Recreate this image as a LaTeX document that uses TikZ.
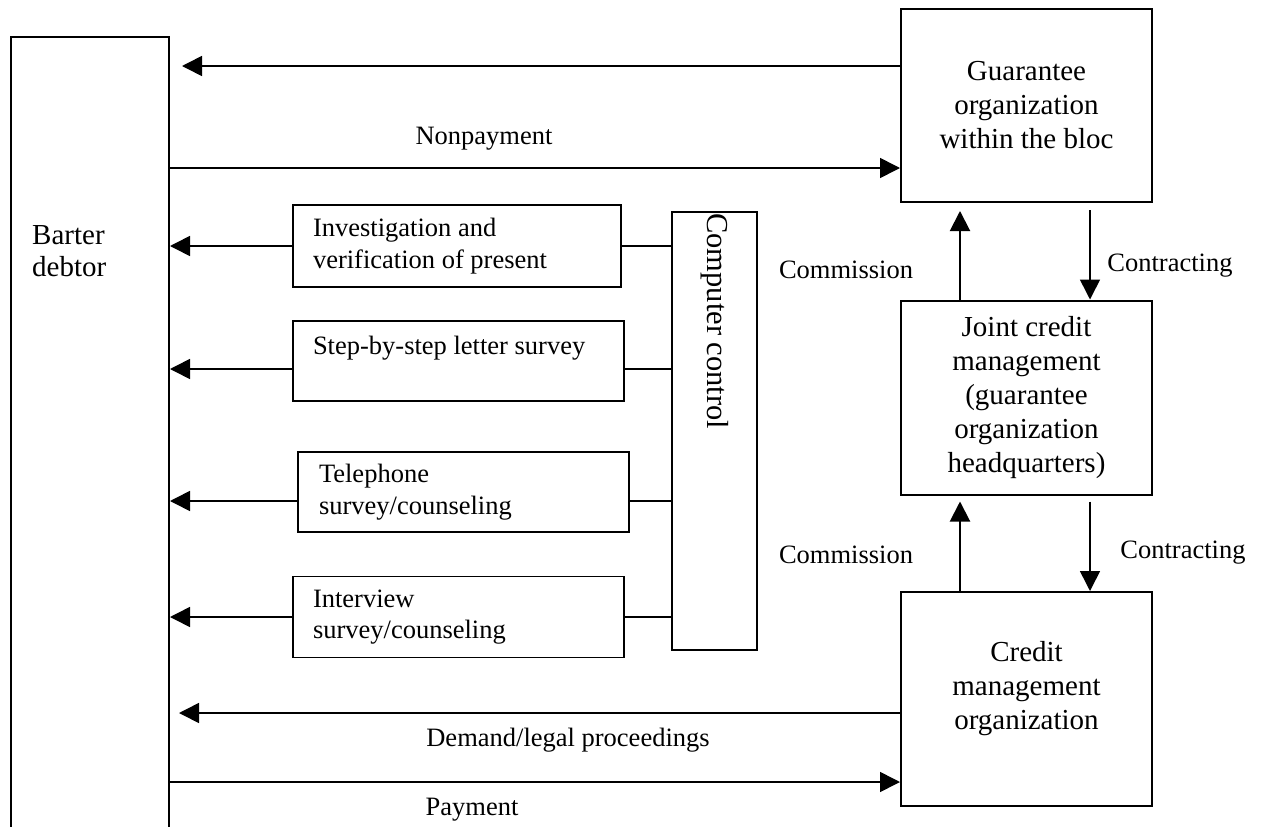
\documentclass[tikz,border=0pt]{standalone}
\usepackage{fontspec}
\setmainfont{Liberation Serif}
\usetikzlibrary{arrows.meta}

% font sizes used in the chart
\newcommand{\fBig}{\fontsize{29pt}{34pt}\selectfont}
\newcommand{\fMid}{\fontsize{26.5pt}{31.5pt}\selectfont}
\newcommand{\fCC}{\fontsize{30.5pt}{34pt}\selectfont}

\begin{document}
\begin{tikzpicture}[x=1pt,y=-1pt,
  orgbox/.style={draw, line width=2pt, inner sep=0pt, minimum width=251pt,
                 align=center, font=\fBig},
  stepbox/.style={draw, line width=1.8pt, inner ysep=0pt, inner xsep=20pt,
                  align=flush left, font=\fMid},
  lbl/.style={inner sep=0pt, font=\fMid},
  conn/.style={line width=1.6pt},
  arr/.style={conn, -{Triangle[length=20pt,width=20pt]}}]

\useasboundingbox (0,0) rectangle (1262,827);
\fill[white] (0,0) rectangle (1262,827);

% debtor column (runs past the lower edge)
\node[draw, line width=2pt, inner sep=0pt, minimum width=158pt,
      minimum height=820pt, anchor=north west] (debtor) at (10,36) {};
\node[inner sep=0pt, anchor=west, align=flush left,
      font=\fontsize{29pt}{32pt}\selectfont] (debtortxt) at (32,251) {Barter\\debtor};

% organizations on the right
\node[orgbox, minimum height=193pt] (guar) at (1026.5,105.5)
  {Guarantee\\organization\\within the bloc};
\node[orgbox, minimum height=194pt] (joint) at (1026.5,397.5)
  {Joint credit\\management\\(guarantee\\organization\\headquarters)};
\node[orgbox, minimum height=214pt] (credit) at (1026.5,699) {};
\node[inner sep=0pt, align=center, font=\fBig] (credittxt) at (1026.5,689)
  {Credit\\management\\organization};

% computer control column
\node[draw, line width=2pt, inner sep=0pt, minimum width=85pt,
      minimum height=438pt] (cc) at (714.5,431) {};
\node[rotate=-90, anchor=west, inner sep=0pt, font=\fCC] (cctxt)
  at ([yshift=-2pt]cc.north) {Computer control};

% survey methods
\node[stepbox, text width=288pt, minimum height=82pt] (inv) at (457,246)
  {Investigation and\\verification of present};
\node[stepbox, text width=291pt, minimum height=80pt] (step) at (458.5,361)
  {Step-by-step letter survey\\\mbox{}};
\node[stepbox, inner xsep=21pt, text width=289pt, minimum height=80pt] (tel) at (463.5,492)
  {Telephone\\survey/counseling};
\node[stepbox, text width=291pt, minimum height=81pt] (int) at (458.5,617)
  {Interview\\survey/counseling};

% attachment points on box sides
\coordinate (invP) at (inv.west);
\coordinate (invQ) at (inv.east);
\coordinate (stepP) at ([yshift=-8pt]step.west);
\coordinate (stepQ) at ([yshift=-8pt]step.east);
\coordinate (telP) at ([yshift=-9pt]tel.west);
\coordinate (telQ) at ([yshift=-9pt]tel.east);
\coordinate (intP) at (int.west);
\coordinate (intQ) at (int.east);

\foreach \m in {inv,step,tel,int}{
  \draw[arr] (\m P) -- (\m P -| debtor.east);
  \draw[conn] (\m Q) -- (\m Q -| cc.west);
}

% guarantee organization <-> debtor
\coordinate (gOut) at ([yshift=39.5pt]guar.west);
\coordinate (gIn) at ([yshift=-62.5pt]guar.west);
\draw[arr, shorten >=12pt] (gOut) -- (gOut -| debtor.east);
\draw[arr] (gIn -| debtor.east) -- (gIn);
\node[lbl] (nonpay) at (484,139) {Nonpayment};

% credit management organization <-> debtor
\coordinate (cOut) at ([yshift=-14pt]credit.west);
\coordinate (cIn) at ([yshift=-83pt]credit.west);
\draw[arr, shorten >=9pt] (cOut) -- (cOut -| debtor.east);
\draw[arr] (cIn -| debtor.east) -- (cIn);
\node[lbl] (demand) at (568,740) {Demand/legal proceedings};
\node[lbl] (pay) at (472,810) {Payment};

% commission / contracting between the organizations
\coordinate (jUp) at ([xshift=-66.5pt]joint.north);
\coordinate (jDn) at ([xshift=63.5pt]joint.north);
\draw[arr, line width=2pt, shorten >=8pt] (jUp) -- (jUp |- guar.south);
\draw[arr, shorten <=7pt] (jDn |- guar.south) -- (jDn);
\coordinate (cUp) at ([xshift=-66.5pt]credit.north);
\coordinate (cDn) at ([xshift=63.5pt]credit.north);
\draw[arr, line width=2pt, shorten >=6pt] (cUp) -- (cUp |- joint.south);
\draw[arr, shorten <=6pt] (cDn |- joint.south) -- (cDn);

\node[lbl] (comm1) at (846,270) {Commission};
\node[lbl] (contr1) at (1170,266) {Contracting};
\node[lbl] (comm2) at (846,555) {Commission};
\node[lbl] (contr2) at (1183,553) {Contracting};

\end{tikzpicture}
\end{document}
